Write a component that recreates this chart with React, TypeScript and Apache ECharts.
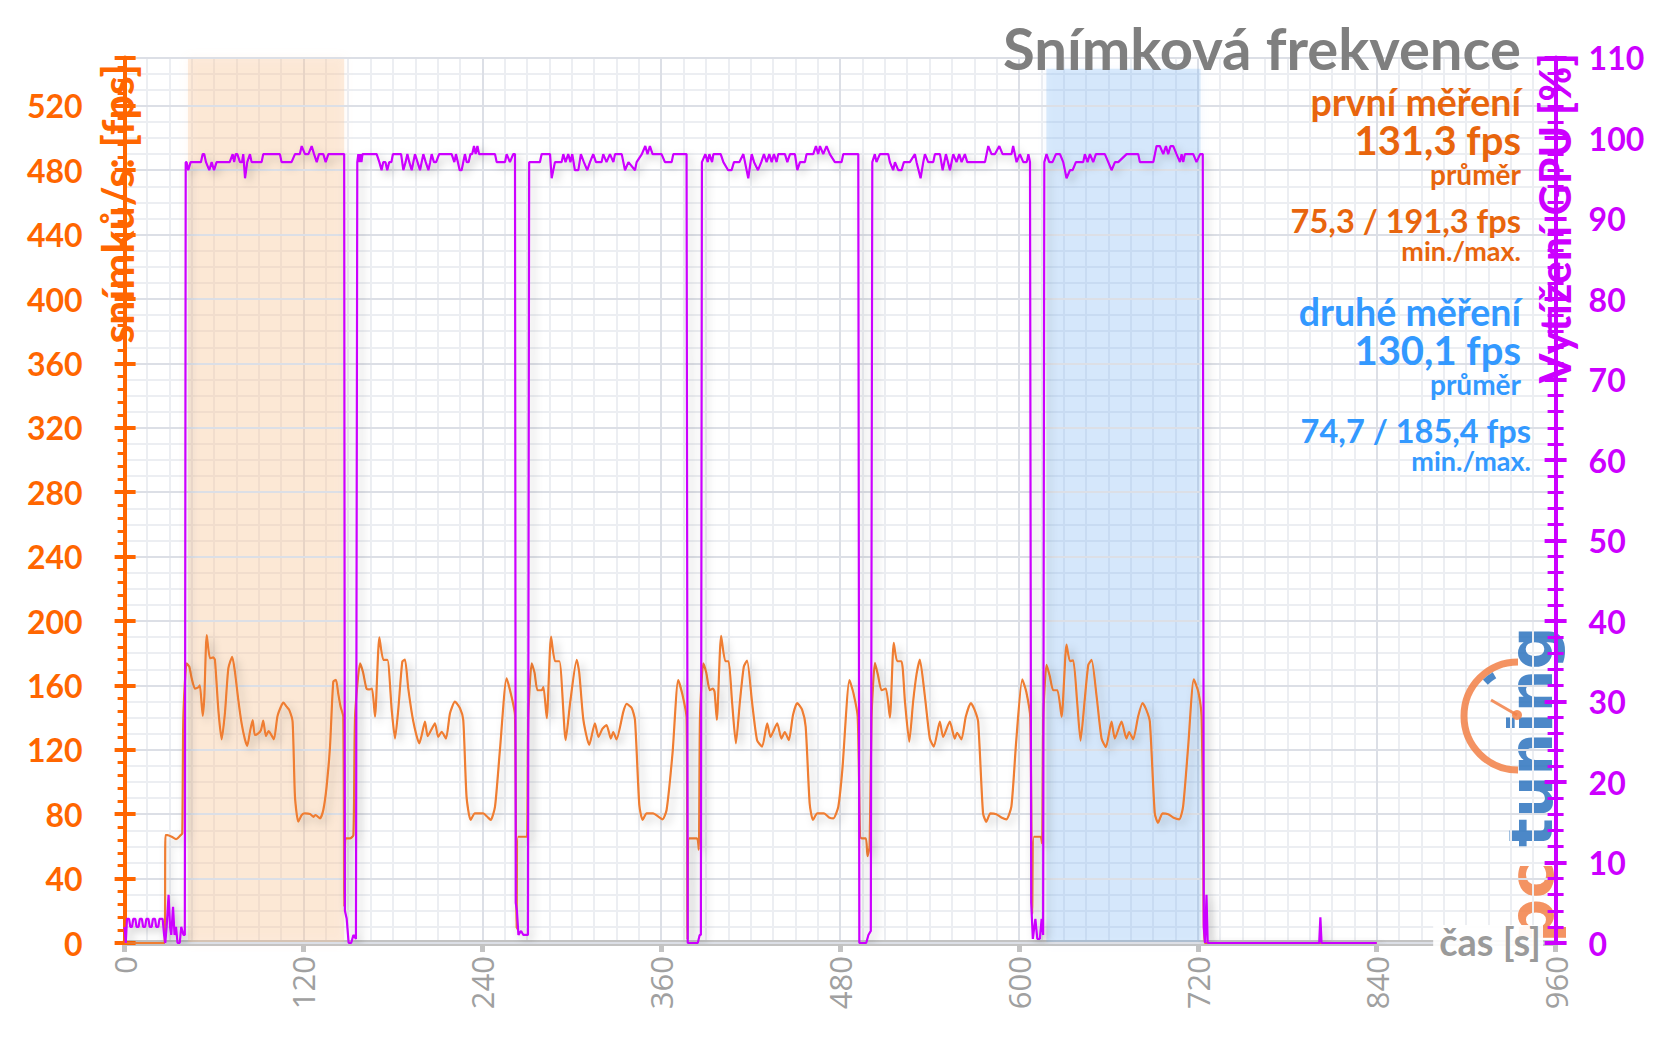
import React, { useEffect, useRef } from "react";
import * as echarts from "echarts";

// ---------- DATA ----------
const xTicks = [0, 120, 240, 360, 480, 600, 720, 840, 960];

// fps series, [time s, fps]
const fpsPre = [[0, 0], [26.8, 0], [27.4, 67], [28.7, 67], [31.6, 66], [34.5, 64.5], [37.6, 67], [38.7, 68]];
const fpsRun1 = [[39.4, 140], [41.6, 173.7], [43.4, 171.6], [45.0, 164.4], [47.2, 158], [49.4, 158.8], [50.5, 160], [52.4, 141], [53.5, 153], [55.1, 191.3], [57.3, 176.8], [59.5, 177.4], [60.6, 175.8], [62.9, 144.7], [65.1, 126.5], [67.3, 142.7], [69.6, 170.6], [72.2, 177.8], [74.0, 168.5], [76.3, 150.9], [78.5, 136.4], [80.7, 126.5], [82.3, 122.4], [84.1, 131.2], [85.9, 138.5], [87.4, 129.2], [89.7, 130.2], [91.5, 132.3], [93.0, 138.1], [94.8, 128.5], [96.6, 131.6], [98.2, 129.6], [100.2, 126.5], [102.5, 140.6], [104.7, 146.4], [106.5, 149.3], [108.7, 146.8], [110.5, 144.7], [112.7, 137.5], [114.3, 90.9], [116.5, 75.3], [118.8, 79.5], [121.0, 80.5], [124.4, 80.1], [126.6, 78.4], [128.1, 79.5], [131.1, 77.4], [133.3, 82.6], [135.5, 97], [137.8, 122], [140.0, 162.3], [141.8, 163.4], [143.3, 155], [144.9, 146.8], [146.7, 140.6], [147.4, 22.5], [148.2, 65], [151.2, 65], [153.5, 67]];
const fpsRun2 = [[154.6, 140.6], [158.0, 173.7], [160.0, 168], [162.3, 158], [164.5, 157.5], [166, 158], [168.0, 140.6], [170.9, 189.9], [173.6, 175.8], [176.3, 175.8], [179.2, 144.7], [181.4, 127], [183.6, 145], [186.3, 174.7], [188.1, 176], [190.3, 158], [193.7, 137.5], [197.7, 124], [199.3, 129], [201.5, 137.5], [203.3, 128.5], [205.5, 132], [208.2, 136.4], [210.4, 128], [212.7, 131.2], [215.6, 127], [218.3, 142.7], [221.6, 149.9], [225, 145.8], [227.2, 138.5], [229.4, 90.9], [232.1, 76.4], [235, 80.5], [240.6, 80.5], [243.3, 78.4], [245.6, 76.4], [248.5, 84.7], [251.8, 119.9], [256.3, 164.4], [259.6, 153], [261.9, 141.5], [263.0, 9], [264.0, 66], [268.6, 66], [270.0, 66]];
const fpsRun3 = [[270.8, 140], [273.1, 173.7], [275, 168], [277, 157], [279.8, 157], [281, 159], [283.2, 139.6], [286.1, 190.3], [288.8, 175], [291.7, 175], [295.9, 126], [299, 150], [303.3, 175.8], [305, 168], [307.8, 138.5], [311.7, 123], [315.5, 136.4], [317.9, 128], [320.5, 133], [323.3, 135.4], [326.2, 127], [327.8, 131], [330, 126.5], [334.6, 143.7], [336.8, 148.5], [340.2, 146], [342.4, 138.5], [345.3, 85.7], [347.5, 76.4], [350.2, 80.5], [354.6, 80.5], [358, 78.5], [360.9, 76.8], [363.6, 82.6], [367.6, 118], [371.4, 163.3], [374.3, 154], [377.0, 140], [377.6, 2], [378.8, 65], [384, 65], [385.2, 58]];
const fpsRun4 = [[386.0, 140], [388.2, 173.7], [390.2, 168], [392.6, 157], [394.7, 158], [395.8, 156], [397.3, 138.5], [400.2, 190.7], [403, 175], [405.2, 175], [407.5, 150], [410.1, 124], [412.8, 150], [415.4, 171.6], [417.6, 175.4], [421, 149], [424.3, 126], [427.7, 122], [431.1, 136.4], [433.3, 128], [437.8, 136.4], [440.6, 127], [442.9, 131], [445.6, 126], [448.4, 141.6], [451.2, 149], [454.6, 144.7], [456.9, 134.4], [459.6, 86.5], [461.8, 76.4], [464.7, 80.5], [469.2, 80.5], [472.6, 78], [475.5, 77.4], [478.8, 84.7], [481.5, 107.5], [486.3, 163.3], [489, 155], [491.8, 140.6], [493.4, 66], [494.6, 65], [497.3, 65], [498.4, 54], [499.8, 60]];
const fpsRun5 = [[501.1, 140], [503.4, 174], [505.5, 166], [507.8, 157], [510.7, 158], [513.4, 140], [516, 186.5], [518.3, 175], [521.2, 175], [523.5, 150], [526.4, 125], [529, 150], [531.3, 167], [533.5, 176], [536.9, 153], [540.2, 127], [542.9, 122], [546.9, 137.5], [549.1, 128], [553.6, 137.5], [556.9, 127], [558.5, 130.6], [561.4, 126.5], [564.3, 140.5], [567.7, 149], [570.3, 144.7], [572.6, 137.5], [575.9, 80.5], [578.1, 75.3], [580.8, 80.5], [584.8, 80], [588.2, 78], [591.5, 76.8], [594.9, 84.7], [598.2, 126], [602.2, 163.7], [604.9, 156], [607.6, 139.6], [608.9, 18], [610.0, 66], [614.5, 66], [615.5, 62]];
const fpsRun6 = [[616.3, 140], [618.5, 172.7], [620.6, 166], [623, 157], [625.8, 157], [628.6, 140.5], [631.9, 185.4], [634.2, 175], [636.4, 175.6], [639, 150], [641.3, 125.7], [644, 150], [646.5, 172.7], [648.7, 175.8], [652.1, 153], [655.4, 127], [658.3, 121.6], [662.1, 137.5], [664.3, 127], [668.8, 137.5], [672.1, 127], [673.9, 131], [676.6, 126.5], [679.9, 140.5], [682.9, 149], [685.5, 144.7], [687.8, 137.5], [691.1, 80.5], [693.3, 74.7], [696.3, 80.5], [700.1, 80], [703.4, 78], [707.5, 76.8], [710.1, 84.7], [713.5, 122], [717.3, 163.7], [720.3, 156], [722.5, 140.5], [723.6, 60], [724.7, 0], [840, 0]];

// GPU load series, [time s, %]
const gpuPre = [[0, 2], [0.8, 0], [1.6, 3], [3, 3], [3.8, 2], [5, 2], [5.8, 3], [7.2, 3], [8, 2], [9.4, 2], [10.2, 3], [11.6, 3], [12.4, 2], [13.8, 2], [14.6, 3], [16, 3], [16.8, 2], [18.2, 2], [19, 3], [20.4, 3], [21.2, 2], [22.6, 2], [23.4, 3], [25.5, 3], [26.5, 1], [27.3, 0], [28.2, 2], [29.5, 6], [30.5, 2], [31.3, 1], [32.5, 4.5], [33.5, 1], [34.5, 2], [35.5, 0], [37, 0], [38, 2], [39.5, 1], [40.4, 1]];
const gpuRun1 = [[41.0, 97], [41.6, 97], [42.7, 96], [44.3, 97], [49.4, 97], [51.2, 97], [52.4, 98], [53.4, 98], [54.6, 97], [56.8, 96], [58.4, 97], [60.0, 96], [61.7, 97], [68.4, 97], [70.5, 97], [72.5, 98], [73.5, 97], [74.5, 98], [75.6, 98], [77.4, 97], [78.8, 97], [79.6, 98], [80.8, 95], [82.3, 97], [84.1, 98], [85.2, 97], [91.9, 97], [93.0, 98], [104.2, 98], [105.3, 97], [112.0, 97], [114.3, 98], [117.6, 98], [118.8, 99], [121.0, 98], [123.3, 98], [125.5, 99], [127.1, 98], [128.9, 97], [130.4, 98], [133.3, 98], [134.9, 97], [136.7, 98], [146.7, 98]];
const gpuGap1 = [[147.3, 98], [147.8, 4], [149, 3], [150.3, 0], [152, 0], [153.5, 1], [155.2, 0.5]];
const gpuRun2 = [[156.1, 97], [156.8, 98], [157.5, 97], [158.2, 98], [158.9, 97], [159.6, 98], [163.5, 98], [169.1, 98], [170.9, 97], [172.4, 96], [173.5, 97], [175.0, 97], [176.2, 96], [177.5, 97], [179.0, 97], [180.0, 98], [185.5, 98], [187.0, 96], [188.5, 97], [189.7, 98], [191, 97], [192.6, 96], [193.7, 97], [194.8, 98], [196.5, 97], [198.2, 96], [199.3, 97], [200.4, 98], [202, 97], [203.8, 96], [205, 97], [206, 98], [207.5, 97], [209, 97], [211, 98], [219.4, 98], [221.2, 97], [222.3, 98], [223.6, 97], [224.8, 96], [226.1, 96], [227.2, 97], [228.3, 98], [229.5, 97], [230.8, 97], [232, 98], [233.2, 98], [234.4, 99], [235.5, 98], [236.7, 99], [237.8, 98], [248.5, 98], [249.6, 97], [255.2, 97], [256.3, 98], [258.5, 97], [260.7, 98], [261.9, 98]];
const gpuGap2 = [[262.4, 5], [263.2, 4], [264.2, 1], [266, 1.5], [267.5, 1], [269.5, 1], [270.6, 1]];
const gpuRun3 = [[271.4, 97], [278.6, 97], [279.8, 98], [285.4, 98], [286.5, 95], [288.7, 97], [293.2, 97], [294.3, 98], [295.8, 97], [297.6, 98], [299.1, 97], [300.3, 98], [302.1, 96], [304.4, 96], [306.1, 98], [308.1, 97], [310.4, 96], [312.2, 97], [314.4, 98], [316.2, 97], [320, 97], [321.1, 98], [323.3, 97], [325.6, 98], [327.9, 97], [329, 98], [333.5, 98], [334.6, 97], [335.7, 96], [338, 97], [342.4, 96], [343.5, 97], [347, 98], [349.3, 99], [350.8, 98], [352.4, 99], [354.2, 98], [360.2, 98], [362.5, 97], [367, 97], [368.1, 98], [377, 98]];
const gpuGap3 = [[377.8, 0], [384.5, 0], [385.8, 1], [386.6, 1]];
const gpuRun4 = [[387.3, 97], [389.6, 98], [391.2, 97], [392.3, 98], [394.1, 97], [395, 98], [399.9, 98], [401.7, 97], [404.9, 96], [407.2, 96], [408.8, 97], [412.4, 97], [415.1, 98], [418.4, 95], [420.7, 98], [422.3, 97], [424.9, 96], [427.1, 97], [428.9, 98], [430.7, 97], [432.5, 98], [434.1, 97], [435.6, 98], [437.4, 97], [438.5, 98], [443, 98], [444.6, 97], [446.4, 98], [449.7, 98], [451.3, 96], [453.1, 97], [456.4, 97], [457.5, 98], [462, 98], [463.8, 99], [465.3, 98], [466.5, 99], [468.7, 98], [470.9, 99], [473.1, 98], [476.5, 97], [481, 97], [482.1, 98], [492.2, 98]];
const gpuGap4 = [[492.9, 0], [497.5, 0], [499, 1], [500.6, 1.5]];
const gpuRun5 = [[501.6, 97], [503.3, 98], [504.4, 97], [506.7, 98], [512.3, 98], [513.4, 97], [515.6, 96], [516.8, 97], [519, 96], [521.2, 96], [522.8, 97], [526.8, 97], [530.2, 98], [531.3, 97], [534, 95], [535.8, 97], [536.9, 98], [539.1, 97], [542.5, 97], [543.6, 98], [547, 98], [548.8, 96], [551, 98], [553.7, 96], [555.9, 98], [558.1, 97], [559.9, 98], [561.5, 97], [563.7, 98], [565.3, 97], [577.2, 97], [579.4, 99], [581.6, 98], [583.9, 98], [586.8, 99], [589, 98], [595, 98], [596.1, 99], [598.4, 97], [600.6, 98], [602.9, 97], [605.2, 97], [606.3, 98], [607.4, 97]];
const gpuGap5 = [[608.2, 5], [609.3, 0.5], [611, 3], [612.3, 0.5], [614, 0.5], [615.2, 3], [616.2, 1]];
const gpuRun6 = [[617, 97], [618.5, 98], [620.3, 97], [622.5, 97], [624.8, 98], [627.5, 98], [629.7, 97], [631.9, 95], [634.2, 96], [636, 96], [638.2, 97], [643.1, 97], [644.2, 98], [646, 97], [647.6, 98], [649.8, 97], [651.6, 98], [657.6, 98], [659.9, 97], [662.1, 96], [664.4, 97], [666.6, 97], [672.2, 98], [680, 98], [681.1, 97], [690.1, 97], [692.3, 99], [694.5, 99], [696.8, 98], [698.6, 99], [700.1, 98], [701.7, 99], [703.5, 99], [705.7, 98], [708, 97], [709.1, 98], [710.2, 97], [711.3, 98], [716.9, 98], [719.1, 97], [721.5, 98], [723.3, 98]];
const gpuPost = [[724, 2], [724.8, 0], [725.8, 6], [726.6, 0], [801.4, 0], [802.2, 3.2], [803, 0], [840, 0]];

// shaded measurement windows [start s, end s]
const firstWindow = [42.5, 147.3];
const secondWindow = [618.4, 721.8];

// texts
const titleText = "Snímková frekvence";
const firstLabel = "první měření";
const firstAvg = "131,3 fps";
const firstMinMax = "75,3 / 191,3 fps";
const secondLabel = "druhé měření";
const secondAvg = "130,1 fps";
const secondMinMax = "74,7 / 185,4 fps";
const avgWord = "průměr";
const minMaxWord = "min./max.";

// ---------- STYLE ----------
const ORANGE_AX = "#ff6600";
const ORANGE_TXT = "#e8650d";
const BLUE_TXT = "#3399ff";
const MAGENTA = "#cc00ff";
const FPS_LINE = "#ef7d31";
const GRID_MAJOR = "#dcdfe6";
const GRID_MINOR = "#eceef2";
const FONT = "Lato, 'Open Sans', sans-serif";

function txt(text: string, x: number, y: number, size: number, color: string, extra: any = {}) {
  return {
    type: "text",
    x,
    y,
    z: 10,
    style: {
      text,
      fill: color,
      fontSize: size,
      lineHeight: Math.round(size * 0.85),
      fontWeight: "bold",
      fontFamily: FONT,
      align: "right",
      textAlign: "right",
      verticalAlign: "middle",
      textVerticalAlign: "middle",
      ...extra,
    },
  };
}

export default function App() {
  const ref = useRef<HTMLDivElement>(null);
  useEffect(() => {
    const chart = echarts.init(ref.current!, null, { renderer: "svg" });
    const fpsData = [...fpsPre, ...fpsRun1, ...fpsRun2, ...fpsRun3, ...fpsRun4, ...fpsRun5, ...fpsRun6];
    const gpuData = [
      ...gpuPre, ...gpuRun1, ...gpuGap1, ...gpuRun2, ...gpuGap2, ...gpuRun3, ...gpuGap3,
      ...gpuRun4, ...gpuGap4, ...gpuRun5, ...gpuGap5, ...gpuRun6, ...gpuPost,
    ];
    const lineShadow = { shadowColor: "rgba(0,0,0,0.22)", shadowBlur: 8, shadowOffsetX: 4, shadowOffsetY: 4 };
    const orangeLogo = "rgba(242,128,70,0.85)";
    const blueLogo = "rgba(45,115,190,0.85)";
    const option: any = {
      animation: false,
      backgroundColor: "#ffffff",
      grid: { left: 124.6, right: 100.4, top: 57.5, bottom: 101, containLabel: false },
      xAxis: {
        type: "value",
        min: xTicks[0],
        max: xTicks[xTicks.length - 1],
        interval: 120,
        axisLine: { show: true, lineStyle: { color: "#c3c3c3", width: 6 } },
        axisTick: { show: true, length: 9, lineStyle: { color: "#c3c3c3", width: 5 } },
        axisLabel: { rotate: 90, color: "#a0a0a0", fontSize: 31, fontFamily: "'Open Sans', sans-serif", margin: 13 },
        splitLine: { show: true, lineStyle: { color: GRID_MAJOR, width: 2 } },
        minorTick: { show: false, splitNumber: 8 },
        minorSplitLine: { show: true, lineStyle: { color: GRID_MINOR, width: 2 } },
      },
      yAxis: [
        {
          type: "value",
          position: "left",
          min: 0,
          max: 550,
          interval: 40,
          z: 2,
          axisLine: { show: true, lineStyle: { color: ORANGE_AX, width: 4 } },
          axisTick: { show: true, length: 10, lineStyle: { color: ORANGE_AX, width: 4 } },
          minorTick: { show: true, splitNumber: 5, length: 7, lineStyle: { color: ORANGE_AX, width: 3 } },
          axisLabel: { color: ORANGE_AX, fontSize: 32, fontWeight: "bold", fontFamily: FONT, margin: 42, showMaxLabel: false },
          splitLine: { show: true, lineStyle: { color: GRID_MAJOR, width: 2 } },
        },
        {
          type: "value",
          position: "right",
          min: 0,
          max: 110,
          interval: 10,
          z: 2,
          axisLine: { show: true, lineStyle: { color: MAGENTA, width: 4 } },
          axisTick: { show: true, length: 11, lineStyle: { color: MAGENTA, width: 4 } },
          minorTick: { show: true, splitNumber: 5, length: 8, lineStyle: { color: MAGENTA, width: 3 } },
          axisLabel: { color: MAGENTA, fontSize: 32, fontWeight: "bold", fontFamily: FONT, margin: 33 },
          splitLine: { show: false },
        },
        {
          // light horizontal grid every 10 fps
          type: "value",
          position: "left",
          min: 0,
          max: 550,
          interval: 10,
          z: -1,
          axisLine: { show: false },
          axisTick: { show: false },
          axisLabel: { show: false },
          splitLine: { show: true, lineStyle: { color: GRID_MINOR, width: 2 } },
        },
        {
          // right axis ticks pointing inwards
          type: "value",
          position: "right",
          min: 0,
          max: 110,
          interval: 10,
          z: 2,
          axisLine: { show: false },
          axisTick: { show: true, inside: true, length: 11, lineStyle: { color: MAGENTA, width: 4 } },
          minorTick: { show: true, splitNumber: 5, length: 8, lineStyle: { color: MAGENTA, width: 3 } },
          axisLabel: { show: false },
          splitLine: { show: false },
        },
        {
          // left axis major ticks pointing inwards
          type: "value",
          position: "left",
          min: 0,
          max: 550,
          interval: 40,
          z: 2,
          axisLine: { show: false },
          axisTick: { show: true, inside: true, length: 11, lineStyle: { color: ORANGE_AX, width: 4 } },
          axisLabel: { show: false },
          splitLine: { show: false },
        },
      ],
      series: [
        {
          name: "fps",
          type: "line",
          yAxisIndex: 0,
          data: fpsData,
          symbol: "none",
          smooth: 0.2,
          z: 3,
          lineStyle: { color: FPS_LINE, width: 2.2, ...lineShadow },
          markArea: {
            silent: true,
            data: [
              [
                { xAxis: firstWindow[0], yAxis: 551, itemStyle: { color: "rgba(248,196,150,0.3)", shadowBlur: 10, shadowColor: "rgba(248,196,150,0.4)" } },
                { xAxis: firstWindow[1], yAxis: 0 },
              ],
              [
                { xAxis: secondWindow[0], yAxis: 543, itemStyle: { color: "rgba(120,180,245,0.25)", shadowBlur: 10, shadowColor: "rgba(120,180,245,0.35)" } },
                { xAxis: secondWindow[1], yAxis: 0 },
              ],
            ],
          },
        },
        {
          name: "GPU",
          type: "line",
          yAxisIndex: 1,
          data: gpuData,
          symbol: "none",
          z: 4,
          lineStyle: { color: MAGENTA, width: 2.2, ...lineShadow },
        },
      ],
      graphic: {
        elements: [
          txt(titleText, 1521, 47.5, 58, "#7f7f7f"),
          txt(firstLabel, 1521, 101, 37.5, ORANGE_TXT),
          txt(firstAvg, 1521, 140, 40, ORANGE_TXT),
          txt(avgWord, 1521, 174, 28, ORANGE_TXT),
          txt(firstMinMax, 1521, 220, 32.5, ORANGE_TXT),
          txt(minMaxWord, 1521, 250, 27, ORANGE_TXT),
          txt(secondLabel, 1521, 311, 37.5, BLUE_TXT),
          txt(secondAvg, 1521, 350, 40, BLUE_TXT),
          txt(avgWord, 1521, 384, 28, BLUE_TXT),
          txt(secondMinMax, 1531, 430, 32.5, BLUE_TXT),
          txt(minMaxWord, 1531, 460, 27, BLUE_TXT),
          { ...txt("snímků/s: [fps]", 117, 64, 43, ORANGE_AX), rotation: Math.PI / 2 },
          { ...txt("Vytížení GPU [%]", 1554, 53, 43, MAGENTA), rotation: Math.PI / 2 },
          txt("čas [s]", 1543, 941, 38, "#9a9a9a", { backgroundColor: "rgba(255,255,255,0.92)", padding: [0, 2, 0, 6] }),
          // logo
          {
            type: "group",
            x: 1552,
            y: 943,
            rotation: Math.PI / 2,
            z: 9,
            children: [
              { type: "text", x: 0, y: -21, style: { text: "pc", fill: orangeLogo, fontSize: 62, fontWeight: "bold", fontFamily: "'DejaVu Sans', sans-serif", align: "left", textAlign: "left", verticalAlign: "middle", textVerticalAlign: "middle" } },
              { type: "text", x: 96, y: -21, style: { text: "tuning", fill: blueLogo, fontSize: 60, fontWeight: "bold", fontFamily: "'DejaVu Sans', sans-serif", align: "left", textAlign: "left", verticalAlign: "middle", textVerticalAlign: "middle" } },
            ],
          },
          { type: "arc", z: 9, shape: { cx: 1518, cy: 716, r: 54, startAngle: Math.PI / 2, endAngle: (3 * Math.PI) / 2, clockwise: true }, style: { stroke: orangeLogo, lineWidth: 7, fill: "none" } },
          { type: "arc", z: 9, shape: { cx: 1518, cy: 716, r: 47, startAngle: (226 * Math.PI) / 180, endAngle: (240 * Math.PI) / 180, clockwise: true }, style: { stroke: blueLogo, lineWidth: 7, fill: "none" } },
          { type: "line", z: 9, shape: { x1: 1517, y1: 715, x2: 1491, y2: 700 }, style: { stroke: orangeLogo, lineWidth: 3 } },
          { type: "circle", z: 9, shape: { cx: 1517, cy: 715, r: 5 }, style: { fill: orangeLogo } },
        ],
      },
    };
    chart.setOption(option);
    return () => chart.dispose();
  }, []);
  return <div ref={ref} style={{ position: "absolute", left: 0, top: 0, width: 1656, height: 1044 }} />;
}
